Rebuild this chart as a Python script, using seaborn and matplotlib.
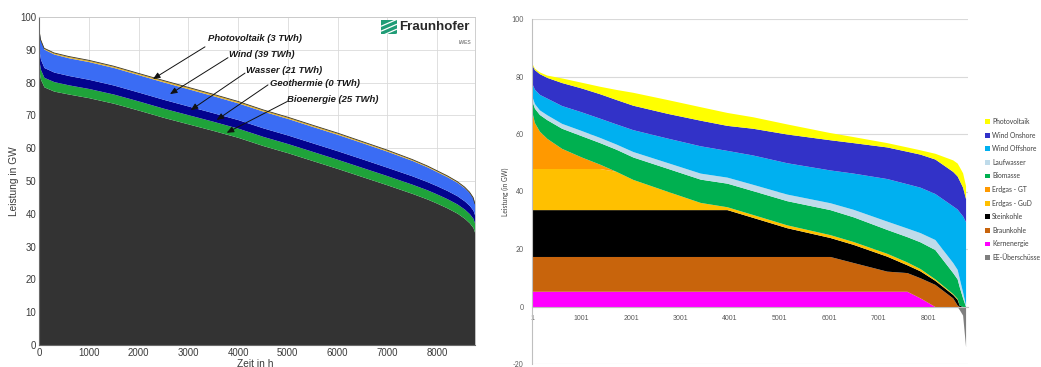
import matplotlib
matplotlib.use("Agg")
import matplotlib.pyplot as plt
import seaborn as sns
from matplotlib.patches import Patch

# ---------------- left panel: sorted residual load + renewable feed-in ----------------
hours_l = [0, 30, 100, 300, 600, 1000, 1500, 2000, 2500, 3000, 3500, 4000, 4500, 5000,
           5500, 6000, 6500, 7000, 7500, 7800, 8000, 8200, 8400, 8550, 8650, 8720, 8760]
residual_l = [83.6, 81.0, 78.7, 77.4, 76.5, 75.4, 73.7, 71.6, 69.4, 67.4, 65.4, 63.3, 60.8, 58.6,
              56.2, 53.8, 51.3, 48.8, 46.2, 44.5, 43.2, 41.8, 40.2, 38.6, 37.2, 35.8, 34.0]
bio_l = [3.0, 3.0, 2.9, 2.9, 2.8, 2.8, 2.8, 2.8, 2.8, 2.8, 2.8, 2.8, 2.8, 2.8,
         2.8, 2.8, 2.8, 2.8, 2.8, 2.8, 2.8, 2.8, 2.8, 2.8, 2.8, 2.8, 2.8]
geo_l = [0.0] * len(hours_l)
wasser_l = [3.2, 3.1, 3.0, 2.9, 2.85, 2.8, 2.75, 2.7, 2.7, 2.65, 2.6, 2.6, 2.6, 2.6,
            2.6, 2.6, 2.6, 2.55, 2.55, 2.5, 2.5, 2.5, 2.5, 2.5, 2.5, 2.5, 2.5]
wind_l = [6.0, 5.8, 5.6, 5.5, 5.4, 5.4, 5.35, 5.3, 5.3, 5.25, 5.2, 5.1, 5.1, 5.05,
          5.0, 5.0, 4.95, 4.9, 4.7, 4.5, 4.3, 4.2, 4.1, 4.0, 3.9, 3.7, 3.5]
pv_l = [0.2, 0.25, 0.3, 0.35, 0.4, 0.4, 0.4, 0.4, 0.45, 0.45, 0.45, 0.45, 0.4, 0.4,
        0.4, 0.4, 0.35, 0.35, 0.3, 0.3, 0.3, 0.3, 0.25, 0.25, 0.2, 0.2, 0.2]
colors_l = ["#333333", "#1fa33a", "#c00000", "#03038e", "#3a6cf4", "#e2b22c"]

ann_labels = ["Photovoltaik (3 TWh)", "Wind (39 TWh)", "Wasser (21 TWh)",
              "Geothermie (0 TWh)", "Bioenergie (25 TWh)"]
ann_text_xy = [(3396, 93.3), (3817, 88.7), (4159, 83.8), (4641, 79.6), (4983, 74.7)]
ann_start_xy = [(3335, 90.9), (3797, 87.6), (4139, 82.9), (4601, 79.3), (4983, 74.2)]
ann_tip_xy = [(2290, 81.1), (2632, 76.5), (3048, 71.6), (3570, 68.6), (3771, 64.7)]

# ---------------- right panel: dispatch stack over the sorted year ----------------
hours_r = [1, 50, 150, 300, 600, 1000, 1370, 1700, 2040, 2730, 3400, 3940, 4460, 5150,
           6020, 6490, 7170, 7575, 7840, 8140, 8500, 8590, 8630, 8700, 8760]
kern = [5.3, 5.3, 5.3, 5.3, 5.3, 5.3, 5.3, 5.3, 5.3, 5.3, 5.3, 5.3, 5.3, 5.3,
        5.3, 5.3, 5.3, 5.3, 3.0, 0.0, 0.0, 0.0, 0.0, 0.0, 0.0]
braun = [12.1, 12.1, 12.1, 12.1, 12.1, 12.1, 12.1, 12.1, 12.1, 12.1, 12.1, 12.1, 12.1, 12.1,
         12.1, 10.0, 7.0, 6.5, 7.0, 7.7, 3.0, 0.5, 0.0, 0.0, 0.0]
stein = [16.3, 16.3, 16.3, 16.3, 16.3, 16.3, 16.3, 16.3, 16.3, 16.3, 16.3, 16.3, 13.6, 10.0,
         6.6, 6.3, 5.2, 2.7, 2.4, 1.4, 1.2, 2.0, 0.5, 0.0, 0.0]
gud = [14.3, 14.3, 14.3, 14.3, 14.3, 14.3, 14.3, 13.3, 10.5, 6.4, 2.5, 1.0, 1.0, 1.0,
       1.0, 1.0, 1.0, 1.0, 0.8, 0.5, 0.3, 0.3, 0.0, 0.0, 0.0]
gt = [19.5, 16.0, 13.0, 10.5, 7.0, 4.0, 1.5, 0.0, 0.0, 0.0, 0.0, 0.0, 0.0, 0.0,
      0.0, 0.0, 0.0, 0.0, 0.0, 0.0, 0.0, 0.0, 0.0, 0.0, 0.0]
biomasse = [4.0, 5.0, 5.8, 6.5, 7.0, 7.4, 7.5, 7.7, 7.8, 8.0, 8.1, 8.2, 8.3, 8.4,
            8.7, 8.6, 8.3, 8.8, 9.3, 10.2, 7.3, 6.8, 6.5, 3.0, 0.0]
laufwasser = [1.5, 1.6, 1.6, 1.7, 1.7, 1.8, 1.8, 1.8, 1.9, 2.0, 2.1, 2.1, 2.2, 2.3,
              2.4, 2.6, 2.9, 3.0, 3.2, 3.5, 3.5, 3.3, 3.0, 2.0, 0.5]
offshore = [4.5, 5.0, 5.4, 5.8, 6.2, 6.5, 6.7, 7.0, 7.6, 8.5, 9.5, 9.3, 10.2, 10.9,
            11.4, 12.6, 14.8, 15.4, 15.8, 16.0, 19.7, 21.0, 23.0, 26.5, 29.0]
onshore = [6.5, 6.8, 7.2, 7.2, 8.0, 8.3, 8.5, 8.5, 8.5, 8.6, 8.9, 8.7, 9.3, 10.0,
           10.5, 10.6, 11.0, 11.3, 11.5, 12.0, 12.0, 11.5, 11.0, 10.0, 8.0]
photovoltaik = [0.5, 0.5, 0.6, 0.8, 1.6, 2.0, 2.6, 3.5, 4.5, 4.8, 4.7, 4.5, 4.0, 3.5,
                2.5, 2.1, 1.5, 1.5, 1.5, 2.0, 4.0, 4.5, 4.7, 5.0, 4.5]
ee_ueberschuss = [0, 0, 0, 0, 0, 0, 0, 0, 0, 0, 0, 0, 0, 0,
                  0, 0, 0, 0, 0, 0, 0, 0, -1.0, -3.0, -14.0]

names_r = ["Kernenergie", "Braunkohle", "Steinkohle", "Erdgas - GuD", "Erdgas - GT",
           "Biomasse", "Laufwasser", "Wind Offshore", "Wind Onshore", "Photovoltaik"]
colors_r = ["#ff00ff", "#c8640c", "#000000", "#ffc000", "#ff9900",
            "#00b050", "#bfdbea", "#00b0f0", "#3232c8", "#ffff00"]
ee_name = "EE-Überschüsse"
ee_color = "#7f7f7f"

x_tick_hours_r = [1, 1001, 2001, 3001, 4001, 5001, 6001, 7001, 8001]
y_ticks_r = [-20, 0, 20, 40, 60, 80, 100]

# ---------------- figure ----------------
sns.set_theme(style="white")
plt.rcParams["font.family"] = ["Liberation Sans", "DejaVu Sans"]
calibri_like = ["Lato", "DejaVu Sans"]

W, H = 1041, 367
fig = plt.figure(figsize=(W / 100, H / 100), dpi=100)
fig.patch.set_facecolor("white")

# left axes
ax1 = fig.add_axes([39 / W, 22 / H, 436 / W, 328 / H])
ax1.set_axisbelow(True)
ax1.grid(True, color="#dadada", linewidth=0.6)
ax1.stackplot(hours_l, residual_l, bio_l, geo_l, wasser_l, wind_l, pv_l,
              colors=colors_l, linewidth=0)
top_l = [r + b + g + w + wi + p for r, b, g, w, wi, p in
         zip(residual_l, bio_l, geo_l, wasser_l, wind_l, pv_l)]
sns.lineplot(x=hours_l, y=top_l, ax=ax1, color="#3a3320", linewidth=0.6)
ax1.set_xlim(0, 8760)
ax1.set_ylim(0, 100)
ax1.set_xticks(range(0, 8001, 1000))
ax1.set_yticks(range(0, 101, 10))
ax1.tick_params(labelsize=6.9, labelcolor="#3a3a3a", length=0, pad=2)
for side in ("top", "right"):
    ax1.spines[side].set_color("#c8c8c8")
    ax1.spines[side].set_linewidth(0.6)
for side in ("left", "bottom"):
    ax1.spines[side].set_color("#6a6a6a")
    ax1.spines[side].set_linewidth(0.8)
ax1.set_ylabel("Leistung in GW", fontsize=7.3, color="#3a3a3a")
ax1.yaxis.set_label_coords(-0.047, 0.5)
ax1.set_xlabel("Zeit in h", fontsize=7.3, color="#3a3a3a")
ax1.xaxis.set_label_coords(0.495, -0.042)

for label, txy, sxy, pxy in zip(ann_labels, ann_text_xy, ann_start_xy, ann_tip_xy):
    ax1.annotate("", xy=pxy, xytext=sxy,
                 arrowprops=dict(arrowstyle="-|>,head_length=0.35,head_width=0.15",
                                 color="#111111", lw=0.7, shrinkA=0, shrinkB=0))
    ax1.text(txy[0], txy[1], label, fontsize=6.8, fontweight="bold", fontstyle="italic",
             color="#1a1a1a", ha="left", va="center")

# Fraunhofer IWES logo
logo = fig.add_axes([381 / W, 1 - 34 / H, 16 / W, 14 / H])
logo.set_xlim(0, 1)
logo.set_ylim(0, 1)
logo.axis("off")
logo.fill([0, 1, 1, 0], [0, 0, 1, 1], color="#1f9c76", lw=0)
for k in (-0.55, -0.2, 0.15, 0.5):
    logo.plot([0, 1], [k + 0.05, k + 0.55], color="white", lw=0.9,
              solid_capstyle="butt", clip_on=True)
fig.text(399 / W, 1 - 27 / H, "Fraunhofer", fontsize=9.6, fontweight="bold",
         color="#2a2a2a", ha="left", va="center")
fig.text(471 / W, 1 - 43 / H, "IWES", fontsize=3.6, color="#555555",
         ha="right", va="center")

# right axes
ax2 = fig.add_axes([532 / W, 3 / H, 436 / W, 345 / H])
ax2.set_axisbelow(True)
ax2.yaxis.grid(True, color="#d9d9d9", linewidth=0.8)
ax2.xaxis.grid(False)
ax2.stackplot(hours_r, kern, braun, stein, gud, gt, biomasse, laufwasser,
              offshore, onshore, photovoltaik, colors=colors_r, linewidth=0)
ax2.fill_between(hours_r, ee_ueberschuss, 0, color=ee_color, linewidth=0)
ax2.set_xlim(1, 8809)
ax2.set_ylim(-20, 100)
ax2.set_xticks(x_tick_hours_r)
ax2.set_xticklabels([str(h) for h in x_tick_hours_r], family=calibri_like)
ax2.set_yticks(y_ticks_r)
ax2.set_yticklabels([str(v) for v in y_ticks_r], family=calibri_like)
ax2.spines["top"].set_visible(False)
ax2.spines["right"].set_visible(False)
ax2.spines["left"].set_color("#bfbfbf")
ax2.spines["left"].set_linewidth(0.8)
ax2.spines["bottom"].set_position(("data", 0))
ax2.spines["bottom"].set_color("#bfbfbf")
ax2.spines["bottom"].set_linewidth(0.8)
ax2.tick_params(axis="x", labelsize=5.0, labelcolor="#595959", length=2,
                color="#bfbfbf", pad=4)
ax2.tick_params(axis="y", labelsize=5.0, labelcolor="#595959", length=0, pad=6)
ax2.set_ylabel("Leistung (in GW)", fontsize=4.8, color="#404040", family=calibri_like)
ax2.yaxis.set_label_coords(-0.052, 0.5)

handles = [Patch(facecolor=c, edgecolor="none", label=n)
           for n, c in zip(names_r, colors_r)][::-1]
handles.append(Patch(facecolor=ee_color, edgecolor="none", label=ee_name))
fig.legend(handles=handles, loc="upper left", bbox_to_anchor=(985 / W, 1 - 118 / H),
           frameon=False, prop={"family": calibri_like, "size": 4.9},
           handlelength=0.7, handleheight=0.7, handletextpad=0.35,
           labelspacing=0.97, borderaxespad=0, borderpad=0, labelcolor="#404040")

fig.savefig("out.png", dpi=100, facecolor="white")
